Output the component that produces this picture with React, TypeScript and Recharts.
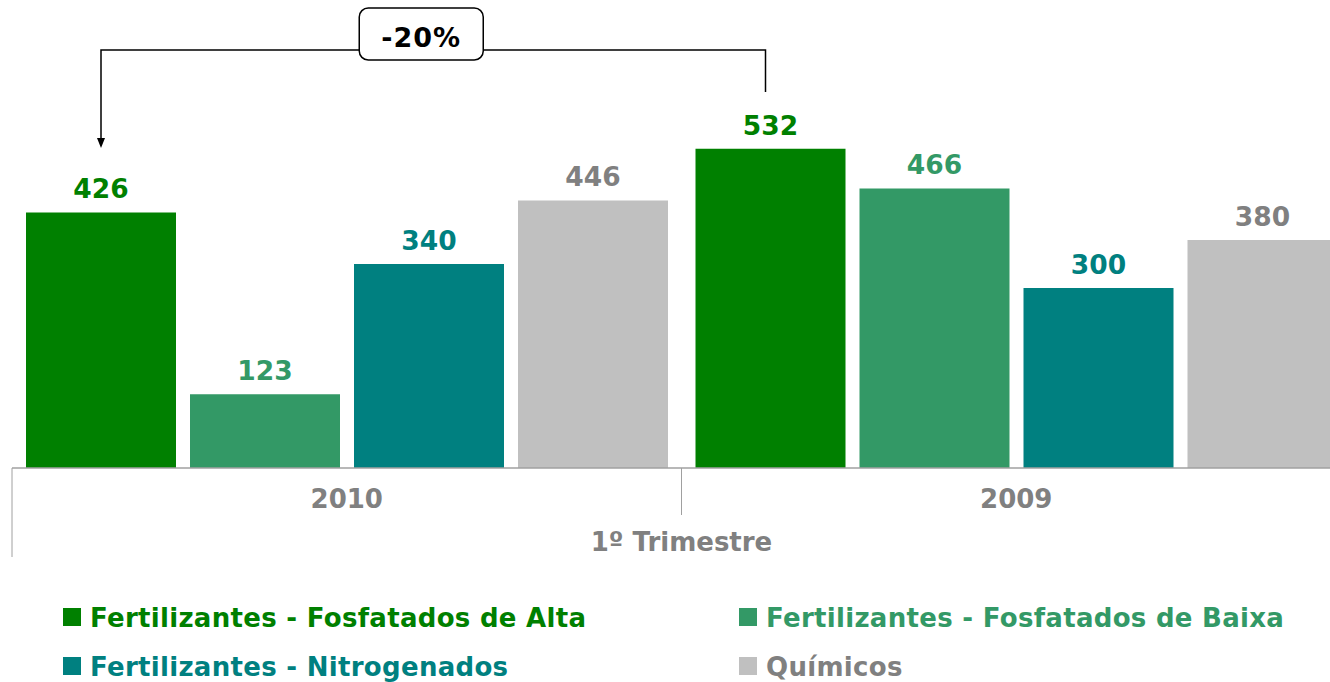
import React from 'react';
import { BarChart, Bar, XAxis, YAxis } from 'recharts';

const categories = ['2010', '2009'];
const altaValues = [426, 532];
const baixaValues = [123, 466];
const nitroValues = [340, 300];
const quimicosValues = [446, 380];
const seriesNames = [
  'Fertilizantes - Fosfatados de Alta',
  'Fertilizantes - Fosfatados de Baixa',
  'Fertilizantes - Nitrogenados',
  'Químicos',
];
const groupLabel = '1º Trimestre';
const changeLabel = '-20%';

const barColors = ['#008000', '#339966', '#008080', '#C0C0C0'];
const textColors = ['#008000', '#339966', '#008080', '#808080'];
const keys = ['alta', 'baixa', 'nitro', 'quimicos'];

const data = categories.map((c, i) => ({
  year: c,
  alta: altaValues[i],
  baixa: baixaValues[i],
  nitro: nitroValues[i],
  quimicos: quimicosValues[i],
}));

const FONT = '"DejaVu Sans", Verdana, sans-serif';
const M_LEFT = 12;
const CHART_W = 1351;
const PLOT_W = CHART_W - M_LEFT;
const BAND = PLOT_W / categories.length;
const PLOT_TOP = 108;
const PLOT_BOTTOM = 468;
const CHART_H = 682;
const XAXIS_H = 100;

const makeLabel = (si: number) => (p: any) => {
  const { x, y, width, value, index } = p;
  const cx = Number(x) + Number(width) / 2;
  const els: any[] = [];
  if (si === 0 && index === 0) {
    const lineY = 50;
    const tipY = 148;
    const rightX = cx + BAND - 5;
    const mid = (cx + rightX) / 2;
    els.push(
      <g key="br">
        <path d={`M${cx},${tipY - 9} L${cx},${lineY} L${rightX},${lineY} L${rightX},92`} fill="none" stroke="#000" strokeWidth={1.5} />
        <path d={`M${cx - 4},${tipY - 10} L${cx + 4},${tipY - 10} L${cx},${tipY} Z`} fill="#000" />
        <rect x={mid - 74} y={8} width={124} height={52} rx={9} ry={9} fill="#fff" stroke="#000" strokeWidth={1.5} />
        <text x={mid - 12} y={47} textAnchor="middle" fontFamily={FONT} fontWeight="bold" fontSize={27} letterSpacing={1} fill="#000">{changeLabel}</text>
      </g>
    );
  }
  els.push(
    <text key="v" x={cx} y={Number(y) - 14} textAnchor="middle" fontFamily={FONT} fontWeight="bold" fontSize={26.5} fill={textColors[si]}>
      {value}
    </text>
  );
  return <g>{els}</g>;
};

const AxisTick = (p: any) => {
  const { x, payload, index } = p;
  const half = BAND / 2;
  const els: any[] = [];
  els.push(
    <line key="l" x1={x - half} x2={x - half} y1={PLOT_BOTTOM} y2={index === 0 ? 557 : 515} stroke="#a0a0a0" strokeWidth={1} />
  );
  if (index === categories.length - 1) {
    els.push(<line key="r" x1={x + half} x2={x + half} y1={PLOT_BOTTOM} y2={557} stroke="#a0a0a0" strokeWidth={1} />);
  }
  els.push(
    <text key="t" x={x} y={508} textAnchor="middle" fontFamily={FONT} fontWeight="bold" fontSize={26} fill="#808080">
      {payload.value}
    </text>
  );
  if (index === 0) {
    els.push(
      <text key="g" x={M_LEFT + PLOT_W / 2} y={551} textAnchor="middle" fontFamily={FONT} fontWeight="bold" fontSize={26} fill="#808080">
        {groupLabel}
      </text>
    );
  }
  return <g>{els}</g>;
};

const legendPos = [
  { x: 63, y: 608 },
  { x: 739, y: 608 },
  { x: 63, y: 657 },
  { x: 739, y: 657 },
];

export default function App() {
  return (
    <div style={{ position: 'absolute', left: 0, top: 0, width: 1330, height: 682, overflow: 'hidden', background: '#fff' }}>
      <BarChart
        width={CHART_W}
        height={CHART_H}
        data={data}
        margin={{ top: PLOT_TOP, right: 0, left: M_LEFT, bottom: CHART_H - PLOT_BOTTOM - XAXIS_H }}
        barCategoryGap={14}
        barGap={14}
      >
        <YAxis hide domain={[0, 600]} />
        <XAxis
          dataKey="year"
          height={XAXIS_H}
          tickLine={false}
          axisLine={{ stroke: '#a0a0a0', strokeWidth: 1.5 }}
          tick={<AxisTick />}
          interval={0}
        />
        {keys.map((k, i) => (
          <Bar key={k} dataKey={k} name={seriesNames[i]} fill={barColors[i]} isAnimationActive={false} label={makeLabel(i)} />
        ))}
      </BarChart>
      <svg width={1330} height={682} style={{ position: 'absolute', left: 0, top: 0, pointerEvents: 'none' }}>
        {seriesNames.map((n, i) => (
          <g key={n}>
            <rect x={legendPos[i].x} y={legendPos[i].y} width={18} height={18} fill={barColors[i]} />
            <text x={legendPos[i].x + 27} y={legendPos[i].y + 19} fontFamily={FONT} fontWeight="bold" fontSize={26} letterSpacing={0.3} fill={textColors[i]}>
              {n}
            </text>
          </g>
        ))}
      </svg>
    </div>
  );
}
